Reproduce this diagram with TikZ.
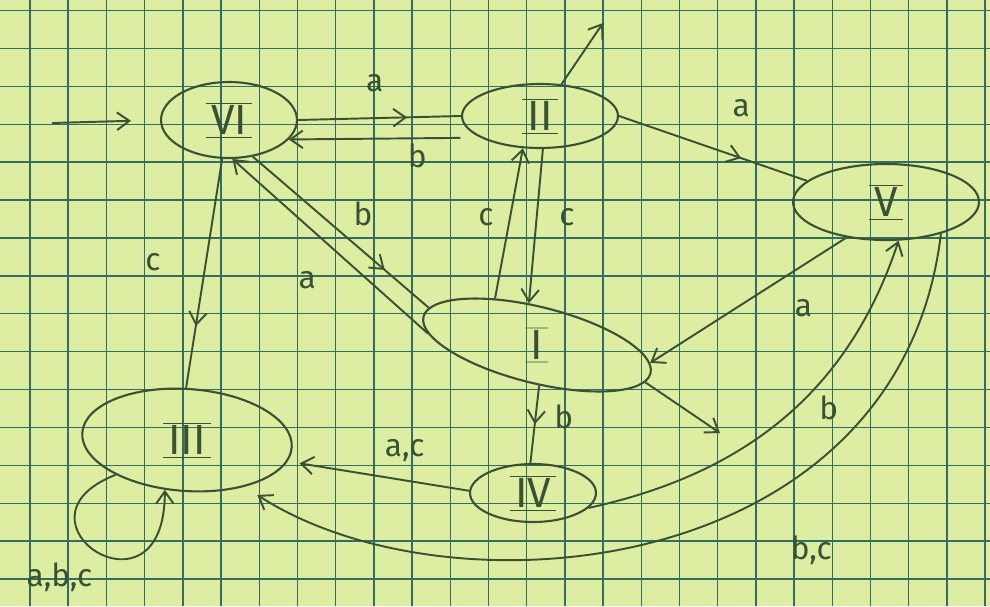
\documentclass[tikz,border=0pt]{standalone}
\usepackage{fontspec}
\setmainfont{Fira Sans}
\usepackage{graphicx}
\usetikzlibrary{arrows.meta, positioning, shapes.geometric, decorations.markings}
\definecolor{paper}{RGB}{221,238,162}
\definecolor{gridink}{RGB}{52,110,96}
\definecolor{pencil}{RGB}{58,82,52}
\newcommand{\stname}[1]{$\overline{\underline{\mbox{\kern3pt#1\kern3pt}}}$}

\begin{document}
\begin{tikzpicture}[x=0.02cm, y=-0.02cm, >={Straight Barb[length=7pt, width=10pt]}]

  \tikzset{
    state/.style = {
      ellipse, draw=pencil, line width=1.2pt, inner sep=0pt,
      text=pencil, font=\fontsize{24}{28}\selectfont
    },
    trans/.style = {
      color=pencil, line width=1.1pt
    },
    midarrow/.style = {
      postaction={decorate},
      decoration={markings, mark=at position #1 with
        {\arrow{Straight Barb[length=7pt, width=10pt]}}}
    },
    gridrule/.style = {
      draw=gridink, line width=0.8pt
    },
    lbl/.style = {
      font=\fontsize{18}{22}\selectfont, text=pencil, inner sep=0pt
    }
  }

  % --- Squared paper ----------------------------------------------------------
  \fill[paper] (0,0) rectangle (990,606);
  \useasboundingbox (0,0) rectangle (990,606);
  \foreach \k in {0,...,25}
    \draw[gridrule] ({30+38.2*\k},0) -- ({30+38.2*\k},606);
  \foreach \k in {0,...,15}
    \draw[gridrule] (0,{10.5+37.9*\k}) -- (990,{10.5+37.9*\k});

  % --- States -----------------------------------------------------------------
  \node (VI)  [state, minimum width=2.72cm, minimum height=1.52cm] at (229,120) {\stname{VI}};
  \node (II)  [state, minimum width=3.12cm, minimum height=1.28cm] at (540,116) {\stname{II}};
  \node (V)   [state, minimum width=3.72cm, minimum height=1.52cm] at (886,202) {\stname{V}};
  \node (I)   [state, minimum width=4.68cm, minimum height=1.52cm, rotate=-14]
    at (537,345) {\rotatebox{14}{\stname{I}}};
  \node (III) [state, minimum width=4.2cm, minimum height=2.04cm, rotate=-4]
    at (187,440) {\rotatebox{4}{\stname{III}}};
  \node (IV)  [state, minimum width=2.52cm, minimum height=1.16cm] at (533,493) {\stname{IV}};

  \coordinate (init)  at (52,123);
  \coordinate (IIout) at (603,23);
  \coordinate (Iout)  at (720,433);

  % --- Start and final markers ------------------------------------------------
  \draw[trans, ->, shorten >=0.58cm] (init) -- (VI.west);
  \draw[trans, ->] (II) -- (IIout);
  \draw[trans, ->] (I.-5) -- (Iout);

  % --- Transitions ------------------------------------------------------------
  \draw[trans, midarrow=0.67] (VI.east) -- node[lbl, pos=0.47, yshift=0.7cm] {a} (II.west);
  \draw[trans, ->, shorten <=0.4cm] (II.200) -- node[lbl, pos=0.33, yshift=-0.36cm] {b} (VI.-18);
  \draw[trans, midarrow=0.65] (II.east) -- node[lbl, pos=0.65, yshift=1.0cm] {a} (V.165);
  \draw[trans, midarrow=0.73] (VI.260) -- node[lbl, pos=0.45, xshift=-1.06cm] {c} (III.95);
  \draw[trans, midarrow=0.75] (VI.-57) -- node[lbl, pos=0.45, xshift=0.62cm, yshift=0.22cm] {b} (I.175);
  \draw[trans, ->] (I.188) -- node[lbl, pos=0.5, xshift=-0.46cm, yshift=-0.68cm] {a} (VI.-85);
  \draw[trans, ->] (I.146) -- node[lbl, xshift=-0.46cm, yshift=0.12cm] {c} (II.-118);
  \draw[trans, ->] (II.-85) -- node[lbl, xshift=0.62cm, yshift=0.18cm] {c} (I.115);
  \draw[trans, ->] (V.-138) -- node[lbl, pos=0.22, yshift=-0.86cm] {a} (I.5);
  \draw[trans, midarrow=0.5] (I.-73) -- node[lbl, xshift=0.58cm, yshift=0.14cm] {b} (IV.95);
  \draw[trans, ->, shorten >=0.24cm] (IV.178) -- node[lbl, pos=0.355, yshift=0.6cm] {a,c} (III.-8);
  \draw[trans, ->] (IV.-15) .. controls (744,474) and (848,393) ..
    node[lbl, pos=0.6, xshift=0.33cm, yshift=-0.35cm] {b} (V.-72);
  \draw[trans, ->, shorten >=0.3cm] (V.-30) .. controls (900,580) and (450,620) ..
    node[lbl, pos=0.3, yshift=-1.68cm] {b,c} (III.-35);
  \draw[trans, ->] (III.-150) .. controls (0,520) and (165,630) ..
    node[lbl, pos=0.45, xshift=-0.6cm, yshift=-0.62cm] {a,b,c} (III.-110);

\end{tikzpicture}
\end{document}
